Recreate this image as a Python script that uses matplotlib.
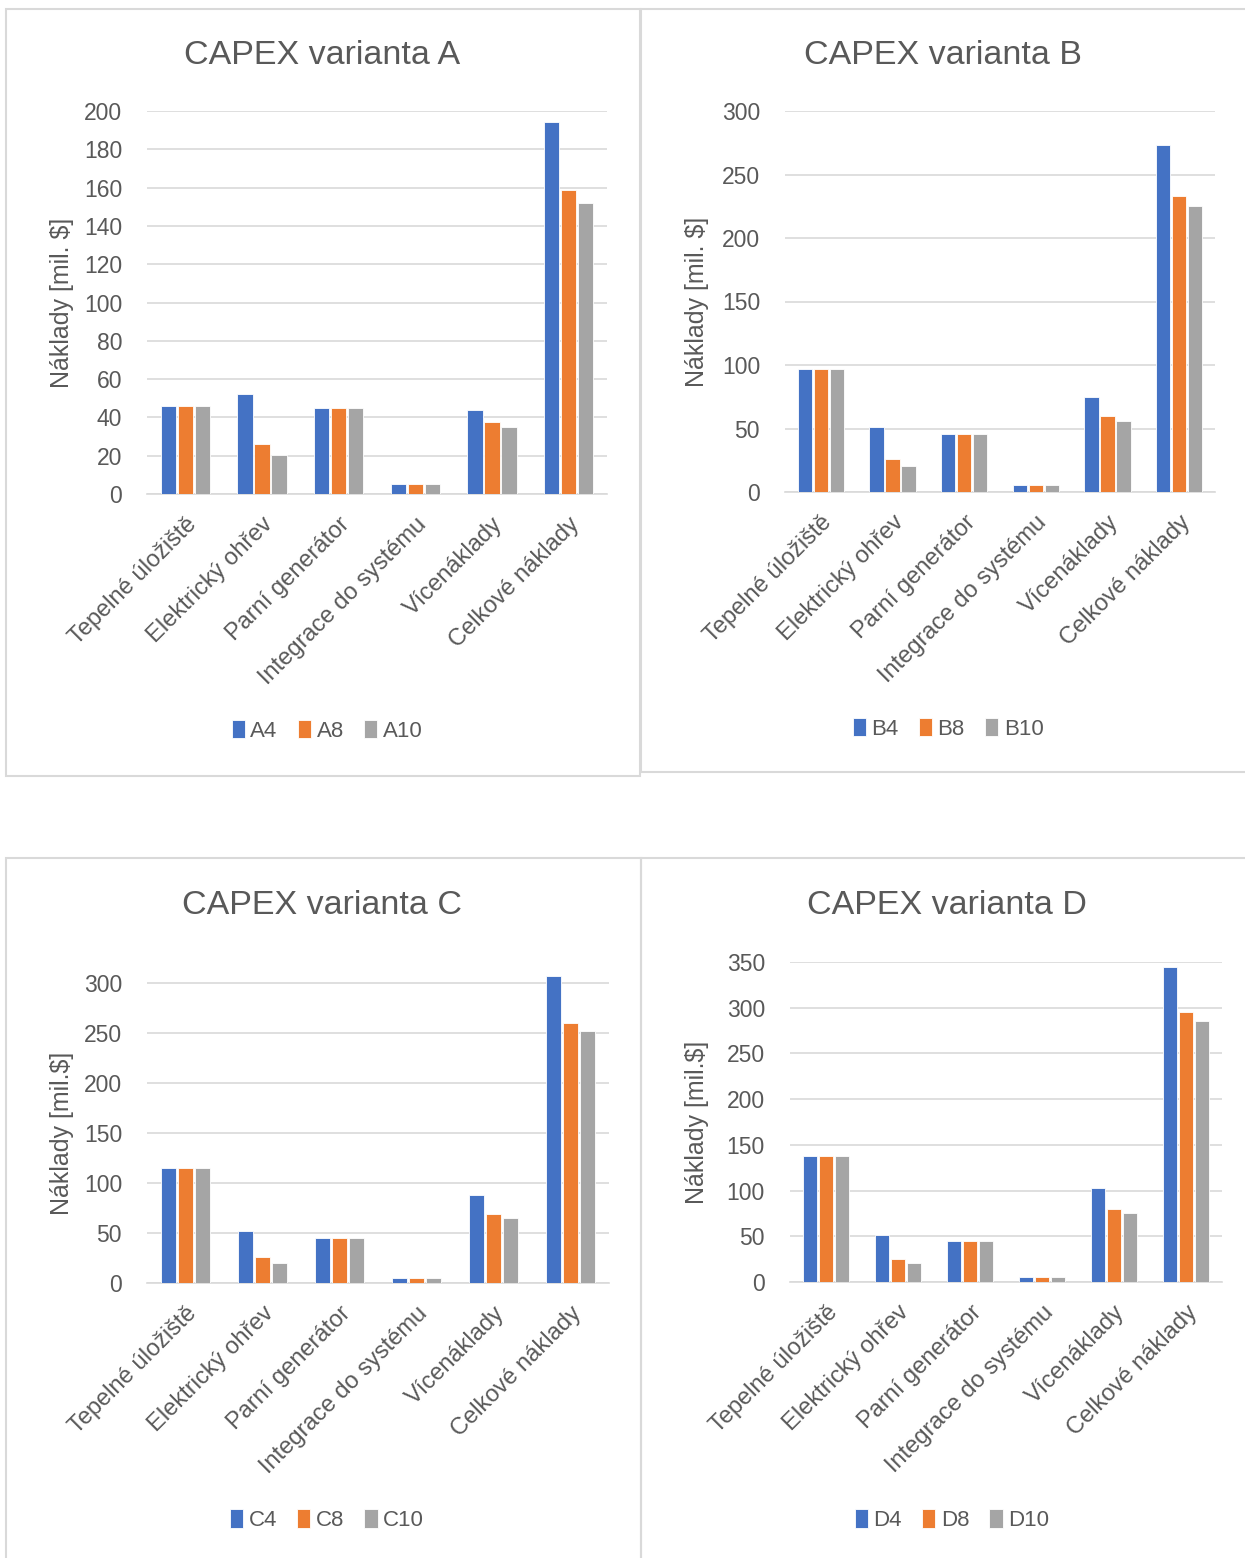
import matplotlib
matplotlib.use('Agg')
import matplotlib.pyplot as plt
from matplotlib.patches import Rectangle
import numpy as np

plt.rcParams['font.family'] = ['Liberation Sans', 'DejaVu Sans']

categories = ['Tepelné úložiště', 'Elektrický ohřev', 'Parní generátor',
              'Integrace do systému', 'Vícenáklady', 'Celkové náklady']

# values [mil. $]
a4 = [46, 52, 45, 5, 44, 194]
a8 = [46, 26, 45, 5, 37.5, 159]
a10 = [46, 20.5, 45, 5, 35, 152]

b4 = [96.5, 51, 46, 5.5, 74.5, 273.5]
b8 = [96.5, 26, 46, 5.5, 59.5, 233]
b10 = [96.5, 20.5, 46, 5.5, 56, 225]

c4 = [115.5, 52, 45.5, 5, 88, 307.5]
c8 = [115.5, 26.5, 45.5, 5, 69, 260.5]
c10 = [115.5, 20, 45.5, 5, 65, 252.5]

d4 = [138, 51.5, 44.5, 5, 103, 344]
d8 = [138, 25.5, 44.5, 5, 80, 295]
d10 = [138, 21, 44.5, 5, 75, 286]

panels = [
    ('CAPEX varianta A', ['A4', 'A8', 'A10'], [a4, a8, a10], 'Náklady [mil. $]', 200, 20, 200),
    ('CAPEX varianta B', ['B4', 'B8', 'B10'], [b4, b8, b10], 'Náklady [mil. $]', 300, 50, 300),
    ('CAPEX varianta C', ['C4', 'C8', 'C10'], [c4, c8, c10], 'Náklady [mil.$]', 300, 50, 310),
    ('CAPEX varianta D', ['D4', 'D8', 'D10'], [d4, d8, d10], 'Náklady [mil.$]', 350, 50, 350),
]

colors = ['#4472C4', '#ED7D31', '#A5A5A5']
txt = '#595959'
grid = '#D9D9D9'

W, H = 1245, 1558
fig = plt.figure(figsize=(W / 100, H / 100), dpi=100)

def fx(px):
    return px / W

def fy(py):
    return 1 - py / H

# pixel geometry: (left, right, y of top tick, y of zero, title x, title y, legend x, legend y, ylabel x)
geo = [
    (147, 607, 111, 494, 322, 56, 327, 731, 62),
    (785, 1215, 111, 492, 943, 56, 948, 729, 697),
    (147, 609, 983, 1283, 322, 906, 327, 1520, 62),
    (790, 1222, 962, 1282, 947, 906, 952, 1520, 697),
]

# chart frames
boxes = [(6, 9, 640, 776), (641, 9, 1260, 772), (6, 858, 641, 1570), (641, 858, 1260, 1570)]
for x0, y0, x1, y1 in boxes:
    fig.add_artist(Rectangle((fx(x0), fy(y1)), fx(x1 - x0), (y1 - y0) / H,
                             transform=fig.transFigure, fill=False,
                             edgecolor='#D9D9D9', linewidth=1.5))

x = np.arange(len(categories))
pitch = 0.222
bw = 0.2

for (title, names, series, ylab, ytop, ystep, ymax), g in zip(panels, geo):
    left, right, ytick_top, yzero, tx, ty, lx, ly, ylx = g
    ppu = (yzero - ytick_top) / ytop
    top_px = yzero - ymax * ppu
    ax = fig.add_axes([fx(left), fy(yzero), fx(right - left), (yzero - top_px) / H])

    for i, (name, vals) in enumerate(zip(names, series)):
        ax.bar(x + (i - 1) * pitch, vals, bw, color=colors[i], label=name,
               edgecolor='white', linewidth=0.6, zorder=3)

    ax.set_ylim(0, ymax)
    ax.set_xlim(-0.5, len(categories) - 0.5)
    ax.set_yticks(np.arange(0, ytop + 1, ystep))
    ax.yaxis.grid(True, color=grid, linewidth=1.2, zorder=0)
    ax.set_axisbelow(True)
    for s in ['top', 'right', 'left']:
        ax.spines[s].set_visible(False)
    ax.spines['bottom'].set_color(grid)
    ax.spines['bottom'].set_linewidth(1.2)
    ax.tick_params(axis='y', length=0, pad=18, labelsize=16.5, labelcolor=txt)
    ax.tick_params(axis='x', length=0, pad=14, labelsize=17, labelcolor=txt)
    ax.set_xticks(x)
    ax.set_xticklabels(categories, rotation=45, ha='right', rotation_mode='anchor')

    fig.text(fx(tx), fy(ty), title, ha='center', va='center', fontsize=24.5, color=txt)
    fig.text(fx(ylx), (fy(yzero) + fy(ytick_top)) / 2, ylab, rotation=90,
             ha='center', va='center', fontsize=18, color=txt)

    ax.legend(loc='center', bbox_to_anchor=(fx(lx), fy(ly)), bbox_transform=fig.transFigure,
              ncol=3, frameon=False, fontsize=16, labelcolor=txt,
              handlelength=0.6, handleheight=0.9, handletextpad=0.25, columnspacing=0.9)

fig.savefig('out.png', dpi=100, facecolor='white')
